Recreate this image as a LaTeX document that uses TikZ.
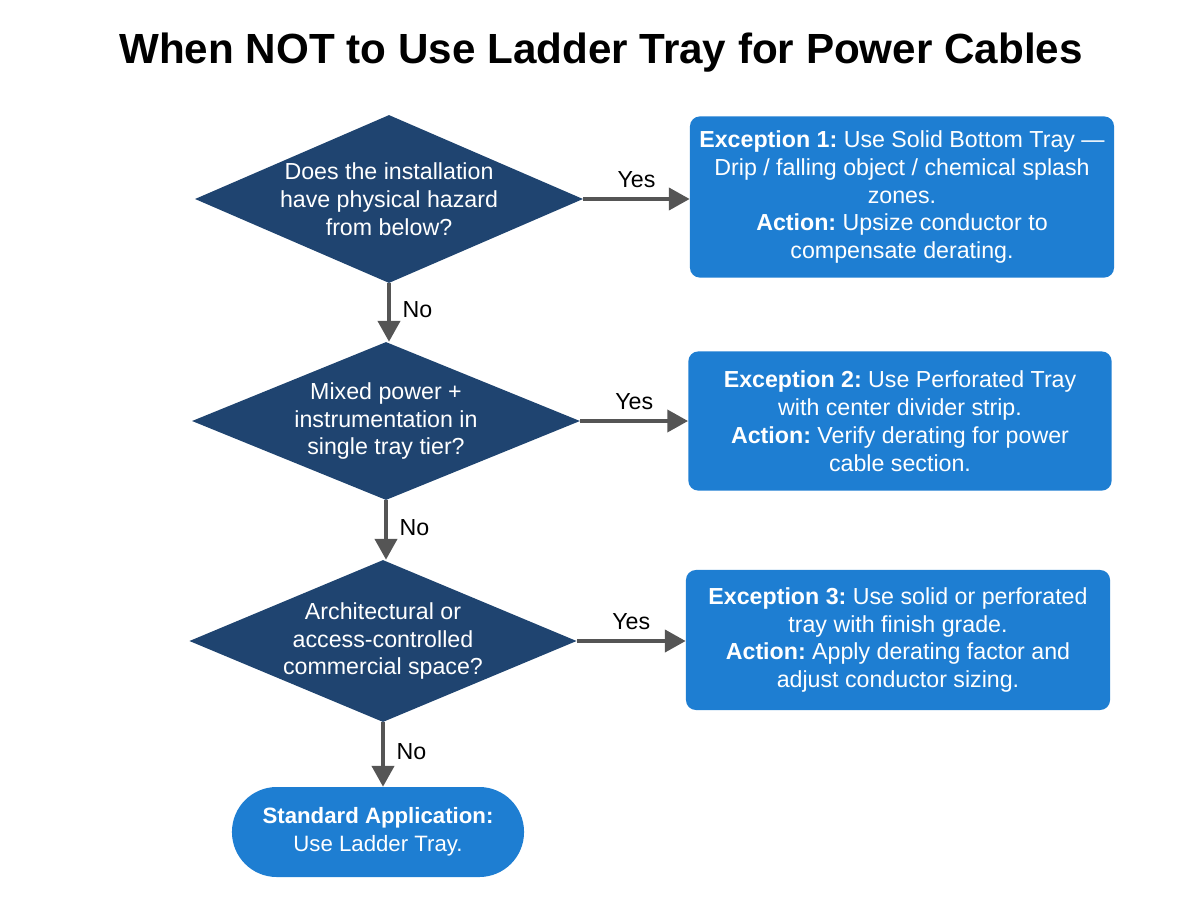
\documentclass[tikz,border=0pt]{standalone}
\usepackage{fontspec}
\setmainfont{Liberation Sans}
\usetikzlibrary{shapes.geometric,arrows.meta}
\frenchspacing
\definecolor{navy}{HTML}{1F4470}
\definecolor{boxblue}{HTML}{1E7ED2}
\definecolor{arrowgray}{HTML}{555555}
\tikzset{
  dia/.style={diamond, fill=navy, inner sep=0pt},
  dtext/.style={text=white, align=center, font=\frenchspacing\fontsize{16.5}{19.8}\selectfont},
  exbox/.style={rectangle, rounded corners=0.25cm, fill=boxblue, text=white, align=center,
    font=\frenchspacing\fontsize{16.5}{19.8}\selectfont, inner sep=0pt},
  term/.style={rectangle, rounded corners=1.12cm, fill=boxblue, text=white, align=center,
    font=\frenchspacing\fontsize{15.8}{19.8}\selectfont, minimum width=7.3cm, minimum height=2.25cm, inner sep=0pt},
  flow/.style={draw=arrowgray, line width=2.8pt, -{Triangle[length=0.52cm,width=0.55cm]}},
  lab/.style={font=\fontsize{16.5}{19}\selectfont, text=black},
}
\begin{document}
\begin{tikzpicture}[x=0.025cm,y=-0.025cm]
\useasboundingbox (0,0) rectangle (1200,900);
\node[font=\bfseries\fontsize{30}{36}\selectfont] (title) at (601,53) {When NOT to Use Ladder Tray for Power Cables};

\node[dia, minimum width=9.7cm, minimum height=4.2cm] (d1) at (389,199) {};
\node[dtext] (t1) at (d1) {Does the installation\\have physical hazard\\from below?};
\node[dia, minimum width=9.7cm, minimum height=3.95cm] (d2) at (386,421) {};
\node[dtext] (t2) at (d2) {Mixed power +\\instrumentation in\\single tray tier?};
\node[dia, minimum width=9.68cm, minimum height=4.05cm] (d3) at (383,641) {};
\node[dtext] (t3) at (d3) {Architectural or\\access-controlled\\commercial space?};

\node[term] (end) at (378,832) {\textbf{Standard Application:}\\Use Ladder Tray.};

\node[exbox, minimum width=10.6cm, minimum height=4.03cm] (b1) at (902,197)
  {\textbf{Exception 1:} Use Solid Bottom Tray —\\Drip / falling object / chemical splash\\zones.\\\textbf{Action:} Upsize conductor to\\compensate derating.};
\node[exbox, minimum width=10.58cm, minimum height=3.48cm] (b2) at (900,421)
  {\textbf{Exception 2:} Use Perforated Tray\\with center divider strip.\\\textbf{Action:} Verify derating for power\\cable section.};
\node[exbox, minimum width=10.6cm, minimum height=3.5cm] (b3) at (898,640)
  {\textbf{Exception 3:} Use solid or perforated\\tray with finish grade.\\\textbf{Action:} Apply derating factor and\\adjust conductor sizing.};

\draw[flow] (d1.east) -- (b1.west |- d1.east) node[lab, midway, above=3pt] {Yes};
\draw[flow] (d2.east) -- (b2.west |- d2.east) node[lab, midway, above=3pt] {Yes};
\draw[flow] (d3.east) -- (b3.west |- d3.east) node[lab, midway, above=3pt] {Yes};

\draw[flow] (d1.south) -- (d1.south |- d2.north) node[lab, midway, right=5pt, yshift=2pt] {No};
\draw[flow] (d2.south) -- (d2.south |- d3.north) node[lab, midway, right=5pt, yshift=2pt] {No};
\draw[flow] (d3.south) -- (d3.south |- end.north) node[lab, midway, right=5pt, yshift=2pt] {No};
\end{tikzpicture}
\end{document}
